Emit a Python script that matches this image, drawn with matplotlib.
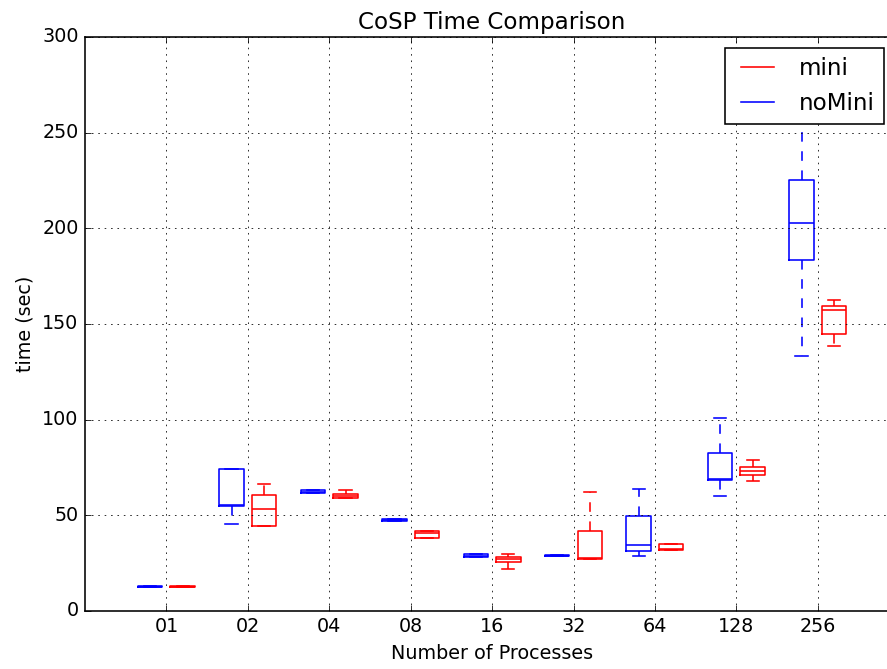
import matplotlib
matplotlib.use("Agg")
import matplotlib.pyplot as plt
from matplotlib.lines import Line2D

plt.style.use("classic")

procs = ["01", "02", "04", "08", "16", "32", "64", "128", "256"]

# noMini run times (sec): whisker low, Q1, median, Q3, whisker high
nomini_lo = [12.3, 45.3, 61.8, 46.8, 28.4, 28.6, 28.7, 60.0, 133.3]
nomini_q1 = [12.3, 55.0, 61.8, 46.8, 28.4, 28.6, 31.5, 68.5, 183.5]
nomini_med = [12.7, 55.2, 62.4, 47.4, 29.0, 29.0, 34.7, 68.8, 203.0]
nomini_q3 = [13.0, 74.2, 63.4, 48.0, 29.6, 29.4, 49.8, 82.4, 225.5]
nomini_hi = [13.0, 74.2, 63.4, 48.0, 29.6, 29.4, 63.8, 101.0, 262.0]

# mini run times (sec)
mini_lo = [12.3, 44.4, 59.2, 38.3, 22.0, 27.2, 31.7, 67.8, 138.3]
mini_q1 = [12.3, 44.4, 59.2, 38.3, 25.5, 27.2, 31.7, 71.1, 145.0]
mini_med = [12.7, 53.3, 60.0, 41.0, 27.4, 27.6, 32.6, 73.3, 157.5]
mini_q3 = [13.0, 60.5, 61.2, 41.8, 28.1, 41.8, 35.2, 75.1, 159.5]
mini_hi = [13.0, 66.2, 63.1, 41.8, 29.8, 62.2, 35.2, 79.1, 162.8]


def make_stats(lo, q1, med, q3, hi):
    return [dict(whislo=a, q1=b, med=c, q3=d, whishi=e, fliers=[])
            for a, b, c, d, e in zip(lo, q1, med, q3, hi)]


def set_box_color(bp, color):
    for key in ["boxes", "whiskers", "caps", "medians"]:
        plt.setp(bp[key], color=color, linewidth=1.0)


DPI = 115
fig = plt.figure(figsize=(887 / DPI, 669 / DPI), dpi=DPI)
ax = fig.add_axes([0.0958, 0.0867, 0.918, 0.858])

centers = [2.0 * i for i in range(len(procs))]

bpl = ax.bxp(make_stats(nomini_lo, nomini_q1, nomini_med, nomini_q3, nomini_hi),
             positions=[c - 0.4 for c in centers], widths=0.6, showfliers=False)
bpr = ax.bxp(make_stats(mini_lo, mini_q1, mini_med, mini_q3, mini_hi),
             positions=[c + 0.4 for c in centers], widths=0.6, showfliers=False)
set_box_color(bpl, "blue")
set_box_color(bpr, "red")

ax.set_xticks(centers)
ax.set_xticklabels(procs)
ax.set_xlim(-2, 2 * len(procs))
ax.set_ylim(0, 300)
ax.grid(True)

ax.set_title("CoSP Time Comparison")
ax.set_xlabel("Number of Processes")
ax.set_ylabel("time (sec)")

handles = [Line2D([], [], color="red"), Line2D([], [], color="blue")]
fig.legend(handles, ["mini", "noMini"], loc="upper right",
           bbox_to_anchor=(884 / 887, 1 - 48 / 669), borderaxespad=0)

fig.savefig("out.png", dpi=DPI)
